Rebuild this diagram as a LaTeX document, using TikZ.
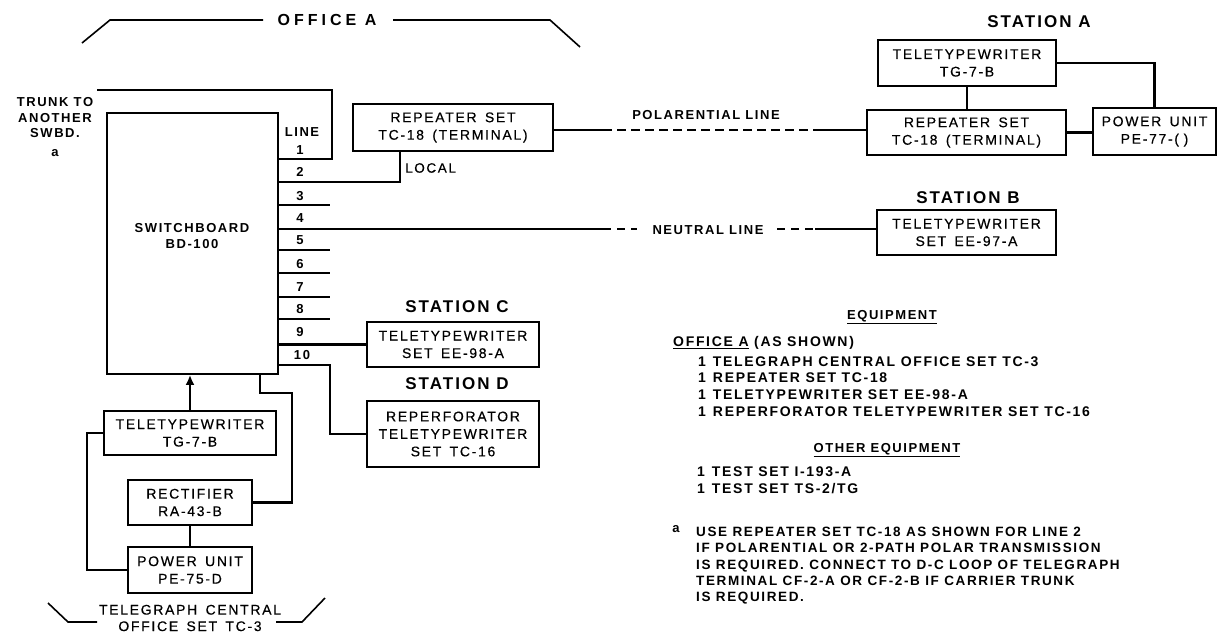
\documentclass[tikz,border=0pt]{standalone}
\usepackage{fontspec}
\setmainfont{Liberation Sans}
\newfontfamily\bxf[LetterSpace=12,WordSpace=1.5,FakeBold=0.4]{Liberation Sans}
\newfontfamily\eqf[LetterSpace=12,WordSpace=1.5]{Liberation Sans}
\newfontfamily\hdf[LetterSpace=12]{Liberation Sans}
\newfontfamily\ofaf[LetterSpace=25]{Liberation Sans}
\usetikzlibrary{arrows.meta}
\tikzset{
  box/.style={draw, line width=1.8pt, inner sep=0pt, align=center,
    font=\bxf\fontsize{14}{17.5}\selectfont},
  wire/.style={line width=2.6pt},
  dsh/.style={line width=2.4pt, dash pattern=on 9pt off 5pt},
  brk/.style={line width=1.6pt},
  hd/.style={font=\hdf\bfseries\fontsize{17}{20}\selectfont, inner sep=0pt},
  ofa/.style={font=\ofaf\bfseries\fontsize{16}{19}\selectfont, inner sep=0pt},
  lab/.style={font=\eqf\bfseries\fontsize{13}{16}\selectfont, inner sep=0pt, align=center},
  eq/.style={font=\eqf\bfseries\fontsize{14}{16}\selectfont, inner sep=0pt, anchor=west},
  num/.style={font=\eqf\bfseries\fontsize{13}{14}\selectfont, inner sep=0pt},
}
\begin{document}
\begin{tikzpicture}[x=1pt,y=-1pt]
\path[use as bounding box, fill=white] (0,0) rectangle (1218,632);

% ---------- Office A bracket
\node[ofa] (offa) at (327,20) {OFFICE A};
\draw[brk] (82,43) -- (110,20) -- (263,20);
\draw[brk] (393,20) -- (550,20) -- (580,47);

% ---------- switchboard
\node[draw, line width=1.8pt, minimum width=171pt, minimum height=261pt] (sw) at (192.5,243.5) {};
\node[lab] (swt) at (192,236) {SWITCHBOARD\\BD-100};
\node[lab, font=\eqf\bfseries\fontsize{13}{15.5}\selectfont] (trk) at (55,127) {TRUNK TO\\ANOTHER\\SWBD.\\[3pt]a};

% line labels
\node[num] (lline) at (302,132) {LINE};
\node[num] (n1) at (300,150) {1};
\node[num] (n2) at (300,172) {2};
\node[num] (n3) at (300,196) {3};
\node[num] (n4) at (300,218) {4};
\node[num] (n5) at (300,240) {5};
\node[num] (n6) at (300,264) {6};
\node[num] (n7) at (300,287) {7};
\node[num] (n8) at (300,309) {8};
\node[num] (n9) at (300,332) {9};
\node[num] (n10) at (302,355) {10};

% ---------- office repeater
\node[box, minimum width=200pt, minimum height=47pt] (rep1) at (453,127.5) {REPEATER SET\\TC-18 (TERMINAL)};
\node[lab, anchor=west, font=\bxf\fontsize{13.5}{15}\selectfont] (local) at (405,168) {LOCAL};

% ---------- station A
\node[hd] (sta) at (1039,22) {STATION A};
\node[box, minimum width=178pt, minimum height=46pt] (tgA) at (967,63) {TELETYPEWRITER\\TG-7-B};
\node[box, minimum width=199pt, minimum height=45pt] (repA) at (966.5,132.5) {REPEATER SET\\TC-18 (TERMINAL)};
\node[box, minimum width=123pt, minimum height=47pt] (pwA) at (1154.5,131.5) {POWER UNIT\\PE-77-(\,\,)};

% ---------- station B
\node[hd] (stbl) at (968,198) {STATION B};
\node[box, minimum width=179pt, minimum height=45pt] (stB) at (966.5,232.5) {TELETYPEWRITER\\SET EE-97-A};

% ---------- station C, D
\node[hd] (stcl) at (457,307) {STATION C};
\node[box, minimum width=172pt, minimum height=45pt] (stC) at (453,344.5) {TELETYPEWRITER\\SET EE-98-A};
\node[hd] (stdl) at (457,384) {STATION D};
\node[box, minimum width=172pt, minimum height=66pt] (stD) at (453,434) {REPERFORATOR\\TELETYPEWRITER\\SET TC-16};

% ---------- bottom equipment
\node[box, minimum width=172pt, minimum height=44pt] (tg) at (190,433) {TELETYPEWRITER\\TG-7-B};
\node[box, minimum width=124pt, minimum height=45pt] (rect) at (190,502.5) {RECTIFIER\\RA-43-B};
\node[box, minimum width=124pt, minimum height=46pt] (pw) at (190,570) {POWER UNIT\\PE-75-D};

% bottom bracket
\node[lab, font=\bxf\fontsize{14}{16.5}\selectfont] (tcl) at (190,618) {TELEGRAPH CENTRAL\\OFFICE SET TC-3};
\draw[brk] (48,603) -- (68,622) -- (97,622);
\draw[brk] (276,622) -- (302,622) -- (325,598);

% ---------- connectors
\coordinate (tk0) at (97,90);
\coordinate (tk1) at (332,90);
\draw[wire] (tk0) -- (tk1) -- (tk1 |- 0,159) -- (sw.east |- 0,159);

\coordinate (l2) at (400,182);
\draw[wire] (sw.east |- l2) -- (l2) -- (l2 |- rep1.south);

\foreach \yy in {205,250,273,297,319}
  \draw[wire] (sw.east |- 0,\yy) -- (330,\yy);

% polarential line
\coordinate (pl) at (0,130);
\draw[wire] (rep1.east |- pl) -- (603,130);
\draw[dsh] (603,130) -- (813,130);
\draw[wire] (813,130) -- (repA.west |- pl);
\node[lab] (pol) at (706,115) {POLARENTIAL LINE};

% neutral line
\coordinate (nl) at (0,229);
\draw[wire] (sw.east |- nl) -- (603,229);
\draw[dsh, dash pattern=on 8pt off 6pt] (603,229) -- (637,229);
\node[lab] (neu) at (708,230) {NEUTRAL LINE};
\draw[dsh, dash pattern=on 8pt off 6pt] (777,229) -- (815,229);
\draw[wire] (815,229) -- (stB.west |- nl);

% station A internal
\draw[wire] (tgA.south) -- (tgA.south |- repA.north);
\draw[wire] (tgA.east) -| (pwA.north);
\draw[wire] (repA.east) -- (repA.east -| pwA.west);

% line 9, 10
\draw[wire] (sw.east |- stC.west) -- (stC.west);
\coordinate (l10) at (330,365);
\draw[wire] (sw.east |- l10) -- (l10) |- (stD.west);

% bottom connections
\draw[wire, -{Latex[length=10pt,width=9pt]}] (tg.north) -- (tg.north |- sw.south);
\coordinate (r1) at (292,393);
\coordinate (r2) at (260,393);
\draw[wire] (rect.east) -| (r1) -- (r2) -- (r2 |- sw.south);
\draw[wire] (rect.south) -- (pw.north);
\coordinate (t1) at (87,433);
\draw[wire] (tg.west) -- (t1) |- (pw.west);

% ---------- equipment list
\node[lab] (eqh) at (892,317) {\underline{EQUIPMENT}};
\node[eq] (offas) at (673,343) {\underline{OFFICE A} (AS SHOWN)};
\node[eq] (e1) at (698,362) {1\hspace{7pt}TELEGRAPH CENTRAL OFFICE SET TC-3};
\node[eq] (e2) at (698,378) {1\hspace{7pt}REPEATER SET TC-18};
\node[eq] (e3) at (698,395) {1\hspace{7pt}TELETYPEWRITER SET EE-98-A};
\node[eq] (e4) at (698,412) {1\hspace{7pt}REPERFORATOR TELETYPEWRITER SET TC-16};
\node[lab] (oeh) at (887,450) {\underline{OTHER EQUIPMENT}};
\node[eq] (o1) at (697,472) {1\hspace{7pt}TEST SET I-193-A};
\node[eq] (o2) at (697,489) {1\hspace{7pt}TEST SET TS-2/TG};

\node[num] (fa) at (676,529) {a};
\node[eq, align=left, font=\eqf\bfseries\fontsize{13.5}{16.3}\selectfont, anchor=north west] (fn) at (696,527)
 {USE REPEATER SET TC-18 AS SHOWN FOR LINE 2\\
  IF POLARENTIAL OR 2-PATH POLAR TRANSMISSION\\
  IS REQUIRED. CONNECT TO D-C LOOP OF TELEGRAPH\\
  TERMINAL CF-2-A OR CF-2-B IF CARRIER TRUNK\\
  IS REQUIRED.};
\end{tikzpicture}
\end{document}
